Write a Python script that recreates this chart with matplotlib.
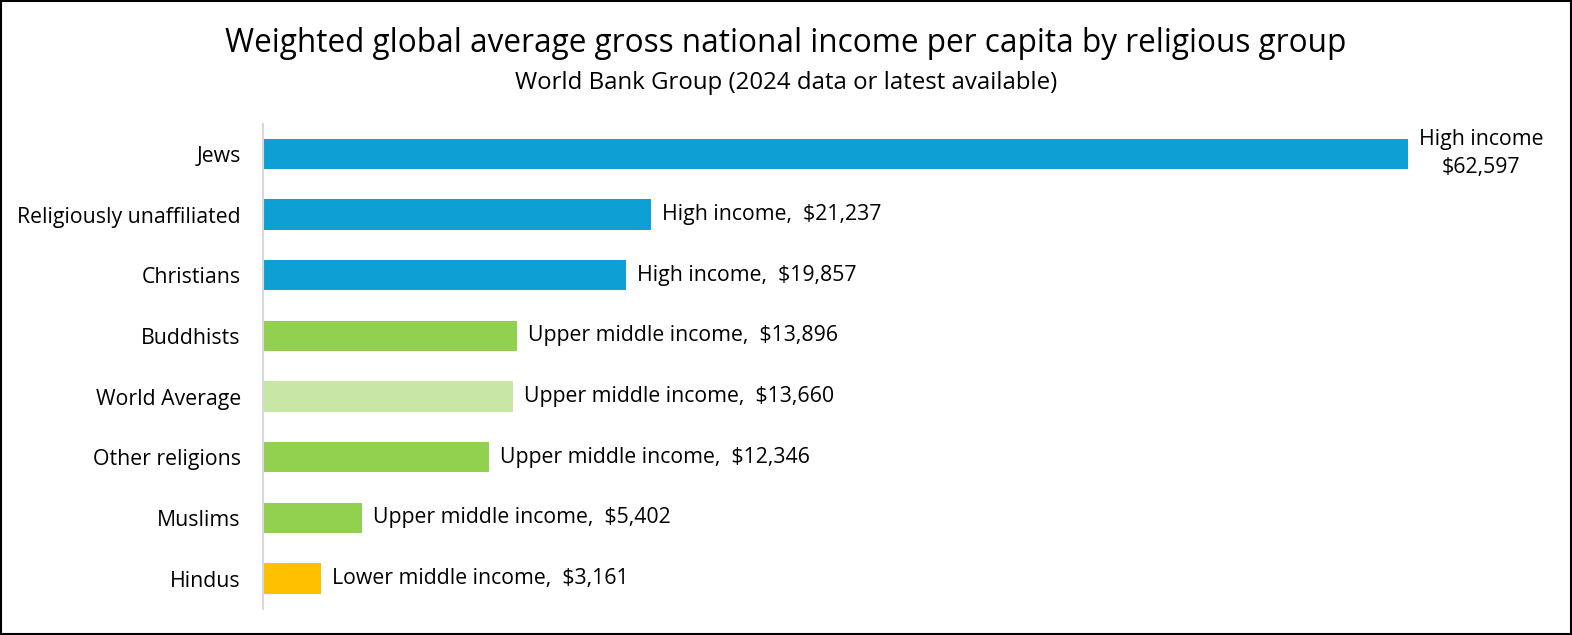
import matplotlib.pyplot as plt
from matplotlib.patches import Rectangle

groups = ['Jews', 'Religiously unaffiliated', 'Christians', 'Buddhists',
          'World Average', 'Other religions', 'Muslims', 'Hindus']
income = [62597, 21237, 19857, 13896, 13660, 12346, 5402, 3161]
levels = ['High income', 'High income', 'High income', 'Upper middle income',
          'Upper middle income', 'Upper middle income', 'Upper middle income',
          'Lower middle income']
colors = ['#0E9FD5', '#0E9FD5', '#0E9FD5', '#92D050',
          '#C8E6A6', '#92D050', '#92D050', '#FFC000']

plt.rcParams['font.family'] = ['Open Sans', 'DejaVu Sans']
fs = 15.3

fig = plt.figure(figsize=(15.72, 6.35), dpi=100)
ax = fig.add_axes([0.1673, 0.041, 0.8143, 0.7645])

y = list(range(len(groups)))
ax.barh(y, income, height=0.5, color=colors)
ax.set_ylim(len(groups) - 0.5, -0.5)
ax.set_xlim(0, 70000)

for i, (v, lev) in enumerate(zip(income, levels)):
    if i == 0:
        ax.text(v + 600, i, lev + '\n$' + f'{v:,}', va='center', ha='left',
                multialignment='center', fontsize=fs, linespacing=1.45)
    else:
        ax.text(v + 600, i, lev + ',  $' + f'{v:,}', va='center', ha='left',
                fontsize=fs)

ax.set_yticks(y)
ax.set_yticklabels(groups, fontsize=fs)
ax.tick_params(axis='y', length=0, pad=16)
ax.set_xticks([])
for s in ['top', 'right', 'bottom']:
    ax.spines[s].set_visible(False)
ax.spines['left'].set_color('#D9D9D9')
ax.spines['left'].set_linewidth(1.5)

fig.text(0.5, 0.932, 'Weighted global average gross national income per capita by religious group',
         ha='center', va='center', fontsize=22.7)
fig.text(0.5, 0.87, 'World Bank Group (2024 data or latest available)',
         ha='center', va='center', fontsize=17.3)

fig.patches.append(Rectangle((0.0008, 0.0016), 0.9984, 0.9968, transform=fig.transFigure,
                             fill=False, edgecolor='black', linewidth=1.5))

plt.savefig('out.png', dpi=100)
